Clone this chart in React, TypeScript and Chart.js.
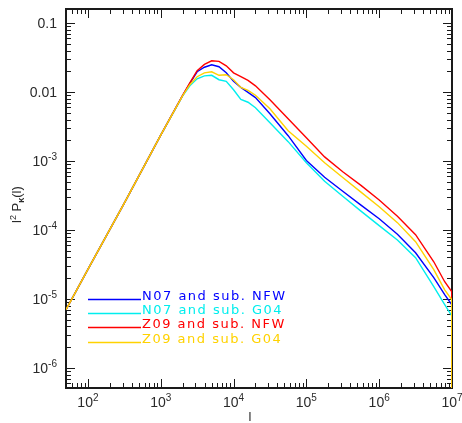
import React, { useEffect, useRef } from "react";
import { Chart, registerables } from "chart.js";
Chart.register(...registerables);

// multipole l
const ells = [50, 100, 316, 1000, 2000, 2510, 3160, 3980, 5010, 6310, 7940, 10000, 12600, 15800, 20000, 31600, 56200, 100000, 178000, 316000, 562000, 1000000, 1780000, 3160000, 5620000, 7940000, 9900000, 10000000];

// l^2 P_kappa(l)
const n07NFW = [7.0e-6, 2.69e-5, 2.46e-4, 2.37e-3, 8.95e-3, 0.0134, 0.0197, 0.0229, 0.0249, 0.0233, 0.019, 0.0143, 0.0117, 0.0099, 0.0083, 0.00485, 0.00233, 0.00102, 0.000582, 0.000365, 0.00023, 0.000146, 8.69e-5, 4.69e-5, 2.04e-5, 1.16e-5, 8.3e-6, 1e-9];
const n07G04 = [7.0e-6, 2.69e-5, 2.46e-4, 2.37e-3, 8.8e-3, 0.0123, 0.0156, 0.0172, 0.0175, 0.0151, 0.0143, 0.0108, 0.0078, 0.00712, 0.00592, 0.00359, 0.00191, 0.000945, 0.00051, 0.000308, 0.000188, 0.000116, 7.16e-5, 3.97e-5, 1.51e-5, 8.27e-6, 5.73e-6, 1e-9];
const z09NFW = [7.0e-6, 2.69e-5, 2.46e-4, 2.37e-3, 8.95e-3, 0.0136, 0.0204, 0.0252, 0.0284, 0.0279, 0.024, 0.019, 0.0167, 0.0148, 0.0123, 0.00773, 0.0041, 0.00218, 0.00115, 0.0007, 0.000444, 0.000272, 0.000159, 8.55e-5, 3.47e-5, 1.78e-5, 1.28e-5, 1e-9];
const z09G04 = [7.0e-6, 2.69e-5, 2.46e-4, 2.37e-3, 8.85e-3, 0.0128, 0.0167, 0.019, 0.0197, 0.0175, 0.0178, 0.0151, 0.0117, 0.0106, 0.009, 0.00573, 0.00275, 0.00164, 0.000945, 0.000578, 0.000354, 0.000218, 0.000128, 6.77e-5, 2.66e-5, 1.36e-5, 9.8e-6, 1e-9];

const seriesLabels = ["N07 and sub. NFW", "N07 and sub. G04", "Z09 and sub. NFW", "Z09 and sub. G04"];
const seriesColors = ["#0000ff", "#00eeee", "#ff0000", "#ffd200"];
const seriesValues = [n07NFW, n07G04, z09NFW, z09G04];

const xRange = [50, 1e7];
const yRange = [5.13e-7, 0.16];
const xTickExps = ["2", "3", "4", "5", "6", "7"];
const yTickValues = [0.1, 0.01, 1e-3, 1e-4, 1e-5, 1e-6];
const yTickTexts: [string, string][] = [["0.1", ""], ["0.01", ""], ["10", "-3"], ["10", "-4"], ["10", "-5"], ["10", "-6"]];

const FONT = "'Liberation Sans', Arial, sans-serif";

const line = (ctx: CanvasRenderingContext2D, x1: number, y1: number, x2: number, y2: number) => {
  ctx.beginPath();
  ctx.moveTo(x1, y1);
  ctx.lineTo(x2, y2);
  ctx.stroke();
};

const idlPlugin = {
  id: "idlFrame",
  beforeDatasetsDraw(chart: any) {
    const { ctx, chartArea: a } = chart;
    const xs = chart.scales.x;
    const ys = chart.scales.y;
    ctx.save();
    ctx.strokeStyle = "#1a1a1a";
    ctx.lineWidth = 1;
    for (let e = -8; e <= 8; e++) {
      for (let m = 1; m < 10; m++) {
        const v = m * Math.pow(10, e);
        const len = m === 1 ? 9 : 5;
        if (v >= xRange[0] * 0.999 && v <= xRange[1] * 1.001) {
          const px = Math.round(xs.getPixelForValue(v)) + 0.5;
          line(ctx, px, a.bottom, px, a.bottom - len);
          line(ctx, px, a.top, px, a.top + len);
        }
        if (v >= yRange[0] * 0.999 && v <= yRange[1] * 1.001) {
          const py = Math.round(ys.getPixelForValue(v)) + 0.5;
          line(ctx, a.left, py, a.left + len, py);
          line(ctx, a.right, py, a.right - len, py);
        }
      }
    }
    ctx.lineWidth = 2;
    ctx.strokeRect(a.left, a.top, a.right - a.left, a.bottom - a.top);
    ctx.restore();
  },
  afterDraw(chart: any) {
    const { ctx, chartArea: a } = chart;
    const xs = chart.scales.x;
    const ys = chart.scales.y;
    ctx.save();
    ctx.fillStyle = "#2a2a2a";
    ctx.textBaseline = "middle";
    const baseFont = `14px ${FONT}`;
    const expFont = `10px ${FONT}`;
    xTickExps.forEach((ex) => {
      const v = Math.pow(10, Number(ex));
      const px = xs.getPixelForValue(v);
      ctx.font = baseFont;
      const wb = ctx.measureText("10").width;
      ctx.font = expFont;
      const we = ctx.measureText(ex).width;
      const x0 = px - (wb + we) / 2;
      const yc = a.bottom + 15;
      ctx.font = baseFont;
      ctx.textAlign = "left";
      ctx.fillText("10", x0, yc);
      ctx.font = expFont;
      ctx.fillText(ex, x0 + wb, yc - 5);
    });
    yTickValues.forEach((v, i) => {
      const py = ys.getPixelForValue(v);
      const [b, ex] = yTickTexts[i];
      const right = a.left - 9;
      ctx.font = expFont;
      const we = ex ? ctx.measureText(ex).width : 0;
      ctx.font = baseFont;
      const wb = ctx.measureText(b).width;
      ctx.textAlign = "left";
      ctx.fillText(b, right - we - wb, py + 1);
      if (ex) {
        ctx.font = expFont;
        ctx.fillText(ex, right - we, py - 4);
      }
    });

    // axis titles
    ctx.textBaseline = "alphabetic";
    ctx.font = `13px ${FONT}`;
    ctx.fillStyle = "#2a2a2a";
    ctx.textAlign = "center";
    ctx.fillText("l", 250, 421);

    ctx.save();
    ctx.translate(21, 200);
    ctx.rotate(-Math.PI / 2);
    ctx.textAlign = "left";
    let cx = -23;
    const piece = (t: string, font: string, dy: number) => {
      ctx.font = font;
      ctx.fillText(t, cx, dy);
      cx += ctx.measureText(t).width;
    };
    piece("l", `13px ${FONT}`, 0);
    piece("2", `9px ${FONT}`, -5);
    piece(" P", `13px ${FONT}`, 0);
    piece("κ", `bold 9px ${FONT}`, 3);
    piece("(l)", `13px ${FONT}`, 0);
    ctx.restore();

    // legend
    const legendYs = [0, 1, 2, 3].map((i) => 299 + i * 14.2);
    ctx.font = `13px 'DejaVu Sans', sans-serif`;
    (ctx as any).letterSpacing = "1.5px";
    ctx.textAlign = "left";
    ctx.textBaseline = "alphabetic";
    seriesLabels.forEach((lab, i) => {
      const yy = Math.round(legendYs[i]) + 0.5;
      ctx.strokeStyle = seriesColors[i];
      ctx.lineWidth = 1.5;
      line(ctx, 88, yy, 141, yy);
      ctx.fillStyle = seriesColors[i];
      ctx.fillText(lab, 142, yy + 0.5);
    });
    ctx.restore();
  },
};

export default function App() {
  const ref = useRef<HTMLCanvasElement | null>(null);
  useEffect(() => {
    if (!ref.current) return;
    const chart = new Chart(ref.current, {
      type: "line",
      data: {
        datasets: seriesValues.map((vals, i) => ({
          label: seriesLabels[i],
          data: ells.map((l, j) => ({ x: l, y: vals[j] })),
          borderColor: seriesColors[i],
          borderWidth: 1.4,
          pointRadius: 0,
          tension: 0,
          fill: false,
          order: seriesValues.length - 1 - i,
        })),
      },
      options: {
        animation: false,
        responsive: false,
        layout: { padding: { left: 66, top: 9, right: 10, bottom: 35 } },
        plugins: { legend: { display: false }, tooltip: { enabled: false } },
        scales: {
          x: { type: "logarithmic", min: xRange[0], max: xRange[1], display: false },
          y: { type: "logarithmic", min: yRange[0], max: yRange[1], display: false },
        },
      },
      plugins: [idlPlugin],
    });
    return () => chart.destroy();
  }, []);
  return (
    <canvas
      ref={ref}
      width={462}
      height={423}
      style={{ position: "absolute", left: 0, top: 0, display: "block", background: "#fff" }}
    />
  );
}
